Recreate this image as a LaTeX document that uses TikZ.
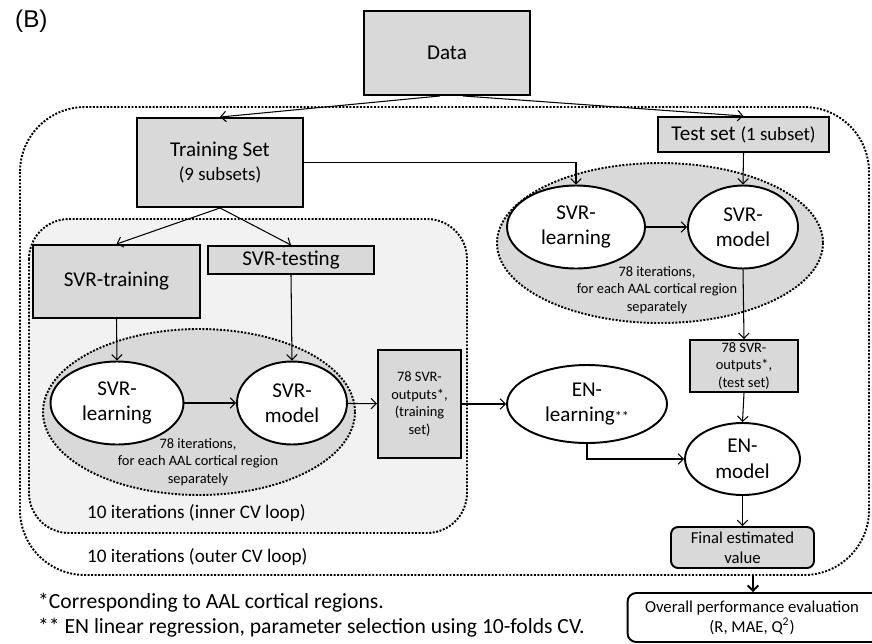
\documentclass[tikz,border=0pt]{standalone}
\usepackage{fontspec}
\setmainfont{Carlito}
\newfontfamily\arialfont{Liberation Sans}
\usetikzlibrary{arrows.meta,shapes.geometric}
\definecolor{boxgray}{HTML}{D9D9D9}
\definecolor{loopgray}{HTML}{F2F2F2}
\newcommand\subtext{\fontsize{10.7}{13}\selectfont}
\newcommand\startext{\fontsize{8}{10}\selectfont}
\begin{document}
\begin{tikzpicture}[x=0.02cm, y=-0.02cm, >={Straight Barb[length=3pt,width=6pt]},
    box/.style={draw, line width=1.1pt, fill=boxgray, inner sep=1pt, align=center, font=\fontsize{12}{14.5}\selectfont},
    smallbox/.style={box, font=\fontsize{8.2}{10}\selectfont},
    oval/.style={draw, ellipse, line width=1.1pt, fill=white, inner sep=0pt, align=center, font=\fontsize{12}{14.5}\selectfont},
    loopline/.style={line width=1.1pt, dash pattern=on 1.1pt off 0.9pt},
    note/.style={font=\fontsize{8.2}{10}\selectfont, align=center},
    looplabel/.style={anchor=west, font=\fontsize{10.9}{13}\selectfont},
    arrow/.style={->, line width=0.6pt}]
    \useasboundingbox (0,0) rectangle (872,643);

    % Schleifen (outer / inner CV loop)
    \draw[loopline, rounded corners=1.3cm] (20,107) rectangle (869,575);
    \draw[loopline, fill=loopgray, rounded corners=0.8cm] (29,219) rectangle (467,533);
    \draw[loopline, fill=boxgray] (199,412) ellipse [x radius=156, y radius=83];
    \draw[loopline, fill=boxgray] (660,243) ellipse [x radius=163, y radius=80];

    \node[anchor=west, font=\arialfont\fontsize{13.8}{16}\selectfont] (label) at (9,21) {(B)};

    % Daten und Aufteilung
    \node[box, minimum width=3.32cm, minimum height=1.68cm] (data) at (447,53) {Data};
    \node[box, minimum width=3.32cm, minimum height=1.78cm] (train) at (220,162.5) {Training Set\\[-1pt]{\subtext(9 subsets)}};
    \node[box, minimum width=3.42cm, minimum height=0.7cm] (test) at (743.5,134.5) {Test set {\subtext(1 subset)}};

    % innere Schleife
    \node[box, minimum width=3.34cm, minimum height=1.46cm] (svrtrain) at (116.5,281.5) {SVR-training};
    \node[box, minimum width=3.32cm, minimum height=0.56cm] (svrtest) at (291,260) {SVR-testing};
    \node[oval, minimum width=2.66cm, minimum height=1.66cm] (learnL) at (117,403) {SVR-\\learning};
    \node[oval, minimum width=2.2cm, minimum height=1.66cm] (modelL) at (292,403) {SVR-\\model};
    \node[note] (iterL) at (198,462) {78 iterations,\\for each AAL cortical region\\separately};
    \node[smallbox, minimum width=1.66cm, minimum height=2.16cm] (outtrain) at (419.5,404) {78 SVR-\\outputs*,\\(training\\set)};
    \node[looplabel] (inner) at (81,513) {10 iterations (inner CV loop)};

    % Testzweig
    \node[oval, minimum width=2.76cm, minimum height=1.66cm] (learnR) at (576,227) {SVR-\\learning};
    \node[oval, minimum width=2.2cm, minimum height=1.66cm] (modelR) at (743,227) {SVR-\\model};
    \node[note] (iterR) at (657,290) {78 iterations,\\for each AAL cortical region\\separately};
    \node[smallbox, minimum width=2.16cm, minimum height=1.04cm] (outtest) at (744,366) {78 SVR-\\outputs*,\\(test set)};

    % EN-Teil
    \node[oval, minimum width=3.2cm, minimum height=1.56cm] (enlearn) at (587,404) {EN-\\learning{\startext**}};
    \node[oval, minimum width=2.3cm, minimum height=1.44cm] (enmodel) at (742.5,459) {EN-\\model};
    \node[box, rounded corners=4pt, minimum width=2.86cm, minimum height=0.82cm, font=\fontsize{9.5}{11.3}\selectfont] (final) at (742.5,547.5) {Final estimated\\value};
    \node[looplabel] (outer) at (81,557) {10 iterations (outer CV loop)};

    \node[box, fill=white, rounded corners=5pt, minimum width=5.3cm, minimum height=0.98cm, font=\fontsize{9.5}{11.3}\selectfont] (overall) at (760,617.5) {\hspace*{-0.32cm}Overall performance evaluation\\\hspace*{-0.32cm}(R, MAE, Q\textsuperscript{2})};
    \coordinate (loopout) at (753,575);

    % Fussnoten
    \node[anchor=west, font=\fontsize{12.3}{15}\selectfont] (fn1) at (32,603) {*Corresponding to AAL cortical regions.};
    \node[anchor=west, font=\fontsize{12.3}{15}\selectfont] (fn2) at (32,628) {** EN linear regression, parameter selection using 10-folds CV.};

    % Pfeile
    \draw[arrow] ([xshift=-0.14cm]data.south) -- (train.north);
    \draw[arrow] ([xshift=0.32cm]data.south) -- (test.north);
    \draw[arrow] (train.east) -| (learnR.north);
    \draw[arrow] (test.south) -- (modelR.north);
    \draw[arrow] (learnR) -- (modelR);
    \draw[arrow] (modelR.south) -- (outtest.north);
    \draw[arrow] (outtest.south) -- (enmodel.north);
    \draw[arrow] (train.south) -- (svrtrain.north);
    \draw[arrow] (train.south) -- (svrtest.north);
    \draw[arrow] (svrtrain.south) -- (learnL.north);
    \draw[arrow] (svrtest.south) -- (modelL.north);
    \draw[arrow] (learnL) -- (modelL);
    \draw[arrow] (modelL) -- (outtrain);
    \draw[arrow] (outtrain) -- (enlearn);
    \draw[arrow] (enlearn.south) |- (enmodel.west);
    \draw[arrow] (enmodel.south) -- (final.north);
    \draw[->, line width=1.1pt] (loopout) -- (loopout |- overall.north);
\end{tikzpicture}
\end{document}
